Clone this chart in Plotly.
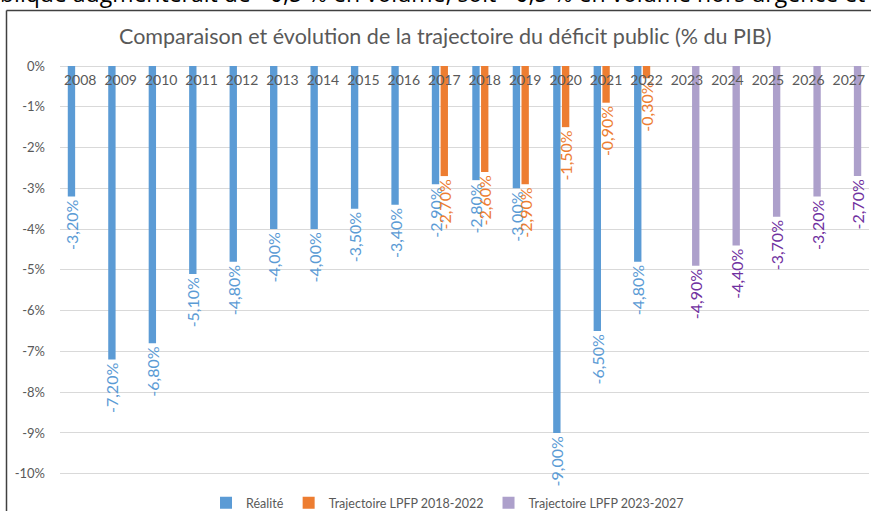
import plotly.graph_objects as go

years = [str(y) for y in range(2008, 2028)]
realite = [-3.2, -7.2, -6.8, -5.1, -4.8, -4.0, -4.0, -3.5, -3.4, -2.9, -2.8, -3.0, -9.0, -6.5, -4.8,
           None, None, None, None, None]
lpfp_2018 = [None] * 9 + [-2.7, -2.6, -2.9, -1.5, -0.9, -0.3] + [None] * 5
lpfp_2023 = [None] * 15 + [-4.9, -4.4, -3.7, -3.2, -2.7]
y_ticks = [0, -1, -2, -3, -4, -5, -6, -7, -8, -9, -10]
y_tick_labels = [f"{v}%" for v in y_ticks]

title = "Comparaison et évolution de la trajectoire du déficit public (% du PIB)"
page_text = "blique augmenterait de +0,5 % en volume, soit +0,5 % en volume hors urgence et"


def fmt(vals):
    return [("" if v is None else f"{v:.2f}".replace(".", ",") + "%") for v in vals]


FONT = "Lato"
PW = 809.0
PH = 422.0
fig = go.Figure()
series = [
    ("Réalité", realite, "#5B9BD5", "#5B9BD5"),
    ("Trajectoire LPFP 2018-2022", lpfp_2018, "#ED7D31", "#ED7D31"),
    ("Trajectoire LPFP 2023-2027", lpfp_2023, "#ADA0CB", "#7030A0"),
]
for name, vals, col, tcol in series:
    fig.add_trace(go.Bar(
        x=years, y=vals, name=name, marker=dict(color=col, line=dict(width=0)),
        text=fmt(vals), textposition="outside", textangle=-90, constraintext="none",
        cliponaxis=False,
        textfont=dict(family=FONT, size=16, color=tcol),
    ))

fig.update_layout(
    width=873, height=511,
    paper_bgcolor="white", plot_bgcolor="white",
    margin=dict(l=60, r=4, t=66, b=23, autoexpand=False),
    barmode="group", bargap=0.35, bargroupgap=0.16,
    font=dict(family=FONT, color="#595959"),
    showlegend=True,
    legend=dict(orientation="h", x=0.479, xanchor="center", y=-0.036, yanchor="middle",
                font=dict(size=12.5, color="#595959"), itemwidth=30, traceorder="normal",
                bgcolor="rgba(0,0,0,0)"),
    xaxis=dict(type="category", anchor="free", position=1.0, side="bottom",
               showgrid=False, showline=False, ticks="", automargin=False,
               tickfont=dict(size=14, color="#595959"), ticklabelstandoff=4),
    yaxis=dict(range=[-10.35, 0.0001], tickvals=y_ticks, ticktext=y_tick_labels,
               showgrid=True, gridcolor="#D9D9D9", gridwidth=1, zeroline=True,
               zerolinecolor="#D9D9D9", zerolinewidth=1, showline=False, automargin=False,
               tickfont=dict(size=13, color="#595959"), ticklabelstandoff=14),
    annotations=[
        dict(text=title, xref="paper", yref="paper", x=(445 - 60) / PW, y=1 + (66 - 36) / PH,
             xanchor="center", yanchor="middle", showarrow=False,
             font=dict(family=FONT, size=21.5, color="#595959")),
        dict(text=page_text, xref="paper", yref="paper", x=-62 / PW, y=1 + (66 - 11) / PH,
             xanchor="left", yanchor="bottom", showarrow=False,
             font=dict(family="Open Sans", size=23, color="#000000")),
    ],
    shapes=[
        dict(type="line", xref="paper", yref="paper", x0=-53.5 / PW, x1=811 / PW,
             y0=1 + (66 - 10.5) / PH, y1=1 + (66 - 10.5) / PH,
             line=dict(color="#404040", width=1.5)),
        dict(type="line", xref="paper", yref="paper", x0=-53.5 / PW, x1=-53.5 / PW,
             y0=-23 / PH - 0.01, y1=1 + (66 - 10.5) / PH,
             line=dict(color="#404040", width=1.5)),
    ],
)

fig.write_html("out.html", config={"displayModeBar": False},
               post_script="document.body.style.margin='0';document.body.style.overflow='hidden';")
